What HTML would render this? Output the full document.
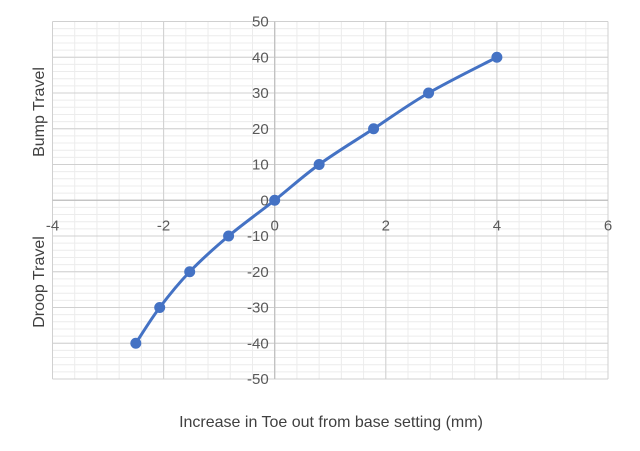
<!DOCTYPE html>
<html><head><meta charset="utf-8"><style>
html,body{margin:0;padding:0;background:#fff;}
svg{display:block;font-family:"Liberation Sans",sans-serif;}
</style></head><body>
<svg id="chart" width="640" height="451" viewBox="0 0 640 451" xmlns="http://www.w3.org/2000/svg">
<g id="grid"></g>
<g id="axes"></g>
<g id="series"></g>
<text x="44" y="112" transform="rotate(-90 44 112)" text-anchor="middle" font-size="16" fill="#404040">Bump Travel</text>
<text x="44" y="282" transform="rotate(-90 44 282)" text-anchor="middle" font-size="16" fill="#404040">Droop Travel</text>
<text x="331" y="427" text-anchor="middle" font-size="16" fill="#404040">Increase in Toe out from base setting (mm)</text>
</svg>
<script>
const xValues = [-2.5, -2.07, -1.53, -0.83, 0, 0.8, 1.78, 2.77, 4.0];
const yValues = [-40, -30, -20, -10, 0, 10, 20, 30, 40];
const xTickLabels = [-4, -2, 0, 2, 4, 6];
const yTickLabels = [50, 40, 30, 20, 10, 0, -10, -20, -30, -40, -50];

const X0 = 52.5, X1 = 608, Y0 = 21.5, Y1 = 379;
const xMin = -4, xMax = 6, yMin = -50, yMax = 50;
function sx(v){ return X0 + (v - xMin) / (xMax - xMin) * (X1 - X0); }
function sy(v){ return Y1 - (v - yMin) / (yMax - yMin) * (Y1 - Y0); }
const NS = "http://www.w3.org/2000/svg";
function mk(tag, attrs, parent){ const e = document.createElementNS(NS, tag); for (const k in attrs) e.setAttribute(k, attrs[k]); parent.appendChild(e); return e; }

const grid = document.getElementById('grid');
// minor grid
for (let v = xMin; v <= xMax + 1e-9; v += 0.4) {
  const l = mk('line', {x1: sx(v), x2: sx(v), y1: Y0, y2: Y1, stroke: '#ececec', 'stroke-width': 1}, grid);
  
  
}
for (let v = yMin; v <= yMax + 1e-9; v += 2) {
  const l = mk('line', {x1: X0, x2: X1, y1: sy(v), y2: sy(v), stroke: '#ececec', 'stroke-width': 1}, grid);
  
  
}
// major grid
xTickLabels.forEach(v => {
  const l = mk('line', {x1: sx(v), x2: sx(v), y1: Y0, y2: Y1, stroke: '#d0d0d0', 'stroke-width': 1}, grid);
  
  
});
yTickLabels.forEach(v => {
  const l = mk('line', {x1: X0, x2: X1, y1: sy(v), y2: sy(v), stroke: '#d0d0d0', 'stroke-width': 1}, grid);
  
  
});

const axes = document.getElementById('axes');
const xa = mk('line', {x1: X0, x2: X1, y1: sy(0), y2: sy(0), stroke: '#bfbfbf', 'stroke-width': 1.2}, axes);


const ya = mk('line', {x1: sx(0), x2: sx(0), y1: Y0, y2: Y1, stroke: '#bfbfbf', 'stroke-width': 1.2}, axes);


xTickLabels.forEach(v => {
  const t = mk('text', {x: sx(v), y: sy(0) + 30, 'text-anchor': 'middle', 'font-size': 15, fill: '#595959'}, axes);
  t.textContent = v;
  
  
});
yTickLabels.forEach(v => {
  const t = mk('text', {x: sx(0) - 6, y: sy(v) + 5, 'text-anchor': 'end', 'font-size': 15, fill: '#595959'}, axes);
  t.textContent = v;
  
  
});

const series = document.getElementById('series');
const pts = xValues.map((x, i) => [sx(x), sy(yValues[i])]);
let d = 'M' + pts[0][0] + ',' + pts[0][1];
for (let i = 0; i < pts.length - 1; i++) {
  const p0 = pts[Math.max(0, i - 1)], p1 = pts[i], p2 = pts[i + 1], p3 = pts[Math.min(pts.length - 1, i + 2)];
  const t = 0.3;
  const c1x = p1[0] + (p2[0] - p0[0]) * t / 1.0 * 0.6, c1y = p1[1] + (p2[1] - p0[1]) * t * 0.6;
  const c2x = p2[0] - (p3[0] - p1[0]) * t * 0.6, c2y = p2[1] - (p3[1] - p1[1]) * t * 0.6;
  d += ' C' + c1x + ',' + c1y + ' ' + c2x + ',' + c2y + ' ' + p2[0] + ',' + p2[1];
}
const path = mk('path', {d: d, fill: 'none', stroke: '#4472c4', 'stroke-width': 3}, series);


pts.forEach(p => {
  const c = mk('circle', {cx: p[0], cy: p[1], r: 5, fill: '#4472c4', stroke: '#4472c4'}, series);
  
  
});
</script>
</body></html>
